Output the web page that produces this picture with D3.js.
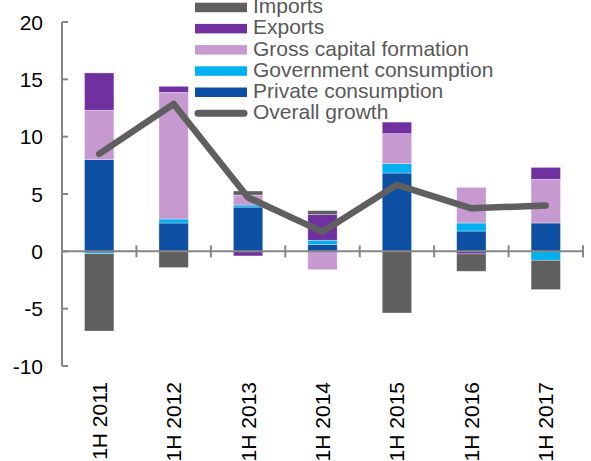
<!DOCTYPE html>
<html>
<head>
<meta charset="utf-8">
<script src="https://cdn.jsdelivr.net/npm/d3@7"></script>
<style>
  body { margin: 0; background: #fff; }
  svg { display: block; font-family: "Liberation Sans", Arial, sans-serif; }
</style>
</head>
<body>
<div id="chart"></div>
<script>
// categories and series (percentage points)
const categories = ["1H 2011", "1H 2012", "1H 2013", "1H 2014", "1H 2015", "1H 2016", "1H 2017"];
const privateCons = [8.0, 2.47, 3.86, 0.61, 6.83, 1.77, 2.47];
const governmentCons = [-0.2, 0.35, 0.18, 0.35, 0.82, 0.70, -0.78];
const grossCapital = [4.3, 11.04, 0.87, -1.6, 2.61, 3.11, 3.81];
const exportsVals = [3.26, 0.53, -0.4, 2.24, 1.01, -0.23, 1.04];
const importsVals = [-6.75, -1.42, 0.35, 0.35, -5.38, -1.51, -2.56];
const overallGrowth = [8.5, 12.85, 4.7, 1.7, 5.8, 3.75, 4.0];
const yTicks = [-10, -5, 0, 5, 10, 15, 20];

const series = [
  { key: "private", name: "Private consumption", values: privateCons, color: "#0d4fa3" },
  { key: "government", name: "Government consumption", values: governmentCons, color: "#00b0f0" },
  { key: "gcf", name: "Gross capital formation", values: grossCapital, color: "#c799d1" },
  { key: "exports", name: "Exports", values: exportsVals, color: "#7030a0" },
  { key: "imports", name: "Imports", values: importsVals, color: "#5f5f5f" }
];

const width = 591, height = 461;
const axisColor = "#868686";

const table = categories.map((c, i) => {
  const row = { cat: c };
  series.forEach(s => row[s.key] = s.values[i]);
  return row;
});

const stacked = d3.stack()
  .keys(series.map(s => s.key))
  .offset(d3.stackOffsetDiverging)(table);

const x = d3.scaleBand().domain(categories).range([62, 583]).padding(0);
const y = d3.scaleLinear().domain([-10, 20]).range([366, 22]);
const barW = x.bandwidth() * 0.395;

const svg = d3.select("#chart").append("svg")
  .attr("width", width)
  .attr("height", height);

// bars
svg.append("g")
  .selectAll("g")
  .data(stacked)
  .join("g")
    .attr("fill", (d, i) => series[i].color)
  .selectAll("rect")
  .data(d => d)
  .join("rect")
    .attr("x", d => x(d.data.cat) + (x.bandwidth() - barW) / 2)
    .attr("y", d => y(Math.max(d[0], d[1])))
    .attr("width", barW)
    .attr("height", d => Math.abs(y(d[0]) - y(d[1])))
    .attr("stroke", "#fff")
    .attr("stroke-opacity", 0.45)
    .attr("stroke-width", 0.75);

// y axis
const yAxis = svg.append("g");
yAxis.append("line")
  .attr("x1", 62).attr("x2", 62)
  .attr("y1", y(20)).attr("y2", y(-10))
  .attr("stroke", axisColor).attr("stroke-width", 2);
yAxis.selectAll("line.tick")
  .data(yTicks)
  .join("line")
    .attr("class", "tick")
    .attr("x1", 62).attr("x2", 68)
    .attr("y1", d => y(d)).attr("y2", d => y(d))
    .attr("stroke", axisColor).attr("stroke-width", 2);
yAxis.selectAll("text")
  .data(yTicks)
  .join("text")
    .attr("x", 43)
    .attr("y", d => y(d))
    .attr("dy", "0.36em")
    .attr("text-anchor", "end")
    .attr("font-size", 21)
    .attr("fill", "#000")
    .text(d => d);

// zero line with category ticks
const xAxis = svg.append("g");
xAxis.append("line")
  .attr("x1", 62).attr("x2", 583)
  .attr("y1", y(0)).attr("y2", y(0))
  .attr("stroke", axisColor).attr("stroke-width", 2);
xAxis.selectAll("line.tick")
  .data(categories)
  .join("line")
    .attr("class", "tick")
    .attr("x1", d => x(d) + x.bandwidth())
    .attr("x2", d => x(d) + x.bandwidth())
    .attr("y1", y(0) - 6).attr("y2", y(0) + 6)
    .attr("stroke", axisColor).attr("stroke-width", 2);
xAxis.selectAll("text")
  .data(categories)
  .join("text")
    .attr("transform", d => `translate(${x(d) + x.bandwidth() / 2},382) rotate(-90)`)
    .attr("dy", "0.36em")
    .attr("text-anchor", "end")
    .attr("font-size", 21)
    .attr("fill", "#000")
    .text(d => d);

// overall growth line
const line = d3.line()
  .x((d, i) => x(categories[i]) + x.bandwidth() / 2)
  .y(d => y(d));
svg.append("path")
  .datum(overallGrowth)
  .attr("d", line)
  .attr("fill", "none")
  .attr("stroke", "#5f5f5f")
  .attr("stroke-width", 6.5)
  .attr("stroke-linejoin", "round")
  .attr("stroke-linecap", "round");

// legend
const legendItems = [
  { name: "Imports", color: "#5f5f5f", type: "bar" },
  { name: "Exports", color: "#7030a0", type: "bar" },
  { name: "Gross capital formation", color: "#c799d1", type: "bar" },
  { name: "Government consumption", color: "#00b0f0", type: "bar" },
  { name: "Private consumption", color: "#0d4fa3", type: "bar" },
  { name: "Overall growth", color: "#5f5f5f", type: "line" }
];
const legend = svg.append("g")
  .selectAll("g")
  .data(legendItems)
  .join("g")
    .attr("transform", (d, i) => `translate(0,${13.2 + i * 21.2})`);
legend.filter(d => d.type === "bar")
  .append("rect")
    .attr("x", 195).attr("y", -10.5)
    .attr("width", 52).attr("height", 9.5)
    .attr("fill", d => d.color);
legend.filter(d => d.type === "line")
  .append("line")
    .attr("x1", 198).attr("x2", 244)
    .attr("y1", -6).attr("y2", -6)
    .attr("stroke", d => d.color)
    .attr("stroke-width", 7)
    .attr("stroke-linecap", "round");
legend.append("text")
  .attr("x", 253)
  .attr("font-size", 21)
  .attr("fill", "#595959")
  .text(d => d.name);
</script>
</body>
</html>
